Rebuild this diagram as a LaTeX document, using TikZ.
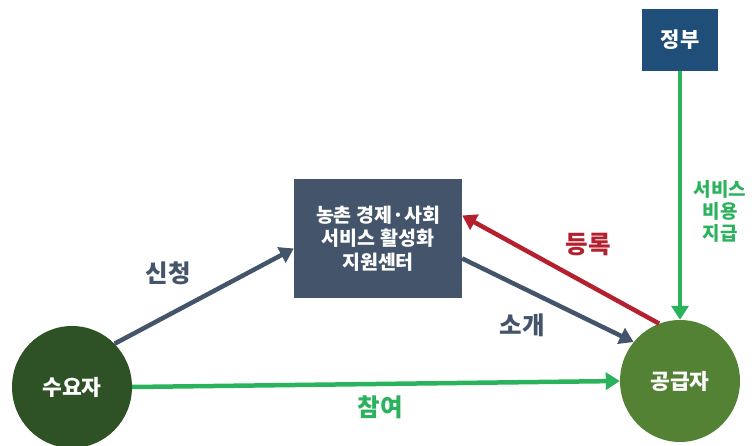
\documentclass[tikz,border=0pt]{standalone}
\usepackage{fontspec}
\setmainfont{Noto Sans CJK KR}
\usepackage{tikz}
\usetikzlibrary{arrows.meta,shapes.geometric}
\usepackage{xcolor}

\definecolor{darkgreen}{HTML}{2E5226}
\definecolor{midgreen}{HTML}{548235}
\definecolor{slate}{HTML}{44546A}
\definecolor{govblue}{HTML}{1F4E79}
\definecolor{regred}{HTML}{B5202E}
\definecolor{paygreen}{HTML}{2BB25D}

\tikzset{
	actor/.style={ellipse, minimum width=120pt, minimum height=122pt, inner sep=0pt, text=white, font=\bfseries\fontsize{21.5}{24}\selectfont},
	boxnode/.style={rectangle, inner sep=0pt, text=white, align=center},
	flow/.style={line width=4.5pt, -{Triangle[length=14pt, width=17pt]}},
	flowlabel/.style={font=\bfseries\fontsize{24.5}{28}\selectfont}
}

\begin{document}
\begin{tikzpicture}[x=1pt, y=-1pt]
		
		\useasboundingbox (0,0) rectangle (755,446);
		
		% demand and supply
		\node [actor, fill=darkgreen] (demand) at (72, 387) {수요자};
		\node [actor, fill=midgreen] (supply) at (680, 381) {공급자};
		
		% support center
		\node [boxnode, fill=slate, minimum width=168pt, minimum height=119pt, font=\bfseries\fontsize{19.5}{23.5}\selectfont] (center) at (378, 238.5) {농촌 경제·사회\\서비스 활성화\\지원센터};
		
		% government
		\node [boxnode, fill=govblue, minimum width=76pt, minimum height=62pt, font=\bfseries\fontsize{21}{24}\selectfont] (gov) at (680, 40) {정부};
		
		% apply
		\draw [flow, slate] (demand.north east) -- ([yshift=-10pt]center.west);
		\node [flowlabel, text=slate] at (168, 273) {신청};
		
		% introduce
		\draw [flow, slate] ([yshift=-20pt]center.east) -- (supply.140);
		\node [flowlabel, text=slate] at (522, 325) {소개};
		
		% register
		\draw [flow, regred] (supply.110) -- ([yshift=23pt]center.east);
		\node [flowlabel, text=regred] at (588, 245) {등록};
		
		% participate
		\draw [flow, paygreen] (demand.east) -- (supply.west);
		\node [flowlabel, text=paygreen] at (380, 407) {참여};
		
		% payment
		\draw [flow, paygreen] (gov.south) -- (supply.north);
		\node [align=center, text=paygreen, font=\bfseries\fontsize{19}{22}\selectfont] at (720, 211) {서비스\\비용\\지급};
		
\end{tikzpicture}
\end{document}
